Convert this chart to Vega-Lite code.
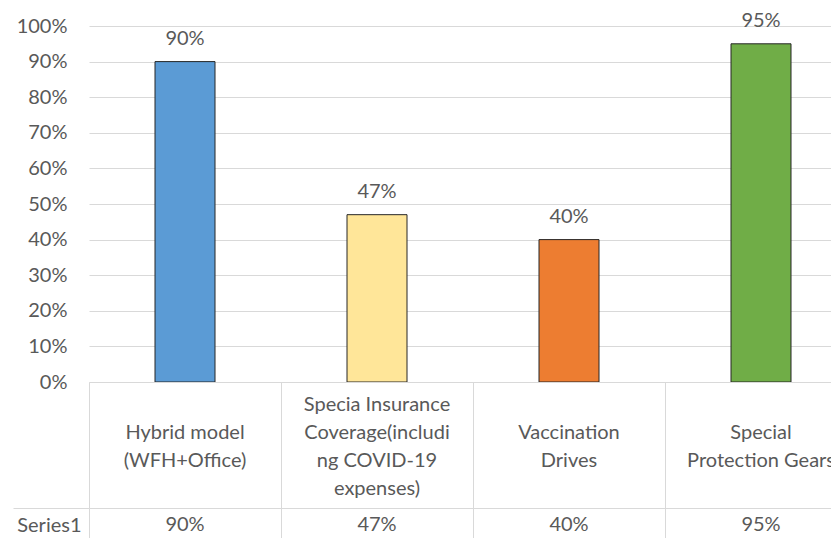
{
  "$schema": "https://vega.github.io/schema/vega-lite/v6.json",
  "autosize": {"type": "pad"},
  "padding": {"left": 12, "top": 10, "right": 0, "bottom": 0},
  "background": "white",
  "spacing": 0,
  "bounds": "flush",
  "config": {
    "view": {"stroke": null},
    "font": "Lato",
    "axis": {"labelFont": "Lato", "labelColor": "#595959", "labelFontSize": 20, "gridColor": "#d9d9d9", "domainColor": "#d9d9d9", "tickColor": "#d9d9d9", "minExtent": 0}
  },
  "datasets": {
    "measures": [
      {"measure": "Hybrid model (WFH+Office)", "label": "Hybrid model\n(WFH+Office)", "series": "Series1", "share": 0.90},
      {"measure": "Specia Insurance Coverage(including COVID-19 expenses)", "label": "Specia Insurance\nCoverage(includi\nng COVID-19\nexpenses)", "series": "Series1", "share": 0.47},
      {"measure": "Vaccination Drives", "label": "Vaccination\nDrives", "series": "Series1", "share": 0.40},
      {"measure": "Special Protection Gears", "label": "Special\nProtection Gears", "series": "Series1", "share": 0.95}
    ]
  },
  "data": {"name": "measures"},
  "vconcat": [
    {
      "width": 743,
      "height": 356,
      "encoding": {
        "x": {"field": "measure", "type": "nominal", "sort": null,
              "scale": {"domain": ["Hybrid model (WFH+Office)", "Specia Insurance Coverage(including COVID-19 expenses)", "Vaccination Drives", "Special Protection Gears"],
                        "range": [0, 768], "paddingInner": 0, "paddingOuter": 0},
              "axis": null},
        "y": {"field": "share", "type": "quantitative",
              "scale": {"domain": [0, 1], "nice": false},
              "axis": {"title": null, "values": [0, 0.1, 0.2, 0.3, 0.4, 0.5, 0.6, 0.7, 0.8, 0.9, 1], "format": ".0%",
                       "grid": true, "domain": false, "ticks": false, "tickSize": 0, "labelPadding": 22}}
      },
      "layer": [
        {
          "mark": {"type": "bar", "size": 60, "stroke": "#262626", "strokeWidth": 1},
          "encoding": {
            "color": {"field": "measure", "type": "nominal", "sort": null, "legend": null,
                      "scale": {"domain": ["Hybrid model (WFH+Office)", "Specia Insurance Coverage(including COVID-19 expenses)", "Vaccination Drives", "Special Protection Gears"],
                                "range": ["#5b9bd5", "#ffe699", "#ed7d31", "#70ad47"]}}
          }
        },
        {
          "mark": {"type": "text", "baseline": "middle", "dy": -23, "fontSize": 20, "color": "#595959"},
          "encoding": {"text": {"field": "share", "type": "quantitative", "format": ".0%"}}
        }
      ]
    },
    {
      "width": 743,
      "height": 126,
      "encoding": {
        "x": {"field": "measure", "type": "nominal", "sort": null,
              "scale": {"domain": ["Hybrid model (WFH+Office)", "Specia Insurance Coverage(including COVID-19 expenses)", "Vaccination Drives", "Special Protection Gears"],
                        "range": [0, 768], "paddingInner": 0, "paddingOuter": 0},
              "axis": {"title": null, "orient": "top", "labels": false, "ticks": false, "domain": true, "grid": true, "tickBand": "extent"}},
        "text": {"field": "label", "type": "nominal"}
      },
      "layer": [
        {
          "transform": [{"filter": "length(split(datum.label, '\\n')) == 2"}],
          "mark": {"type": "text", "lineBreak": "\n", "lineHeight": 28, "fontSize": 20, "color": "#595959", "baseline": "middle", "dy": -12, "clip": true}
        },
        {
          "transform": [{"filter": "length(split(datum.label, '\\n')) == 4"}],
          "mark": {"type": "text", "lineBreak": "\n", "lineHeight": 28, "fontSize": 20, "color": "#595959", "baseline": "middle", "dy": -40, "clip": true}
        }
      ]
    },
    {
      "width": 743,
      "height": 30,
      "mark": {"type": "text", "fontSize": 20, "color": "#595959", "baseline": "middle", "dy": 2, "clip": true},
      "encoding": {
        "x": {"field": "measure", "type": "nominal", "sort": null,
              "scale": {"domain": ["Hybrid model (WFH+Office)", "Specia Insurance Coverage(including COVID-19 expenses)", "Vaccination Drives", "Special Protection Gears"],
                        "range": [0, 768], "paddingInner": 0, "paddingOuter": 0},
              "axis": {"title": null, "orient": "top", "labels": false, "ticks": false, "domain": true, "grid": true, "tickBand": "extent"}},
        "y": {"field": "series", "type": "nominal",
              "scale": {"paddingInner": 0, "paddingOuter": 0},
              "axis": {"title": null, "domain": false, "ticks": true, "tickBand": "extent", "tickSize": 76, "labelPadding": -68, "labelAlign": "right", "labelOffset": 2}},
        "text": {"field": "share", "type": "quantitative", "format": ".0%"}
      }
    }
  ]
}
